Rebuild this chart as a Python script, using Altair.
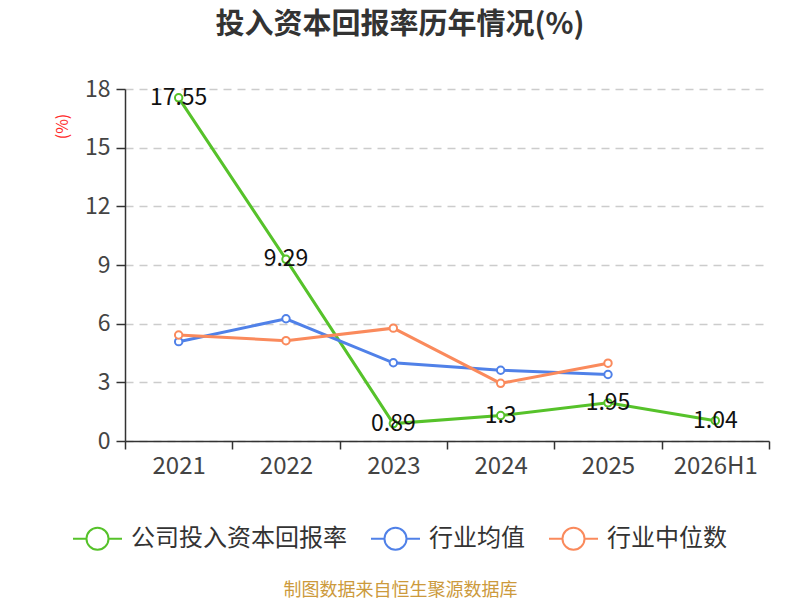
import altair as alt
import pandas as pd

years = ["2021", "2022", "2023", "2024", "2025", "2026H1"]
company = [17.55, 9.29, 0.89, 1.3, 1.95, 1.04]
ind_mean = [5.08, 6.25, 4.0, 3.62, 3.4]
ind_median = [5.42, 5.13, 5.77, 2.95, 3.98]
series_names = ["公司投入资本回报率", "行业均值", "行业中位数"]
colors = ["#56c22a", "#5081e8", "#fa8a5c"]
y_ticks = [0, 3, 6, 9, 12, 15, 18]

rows = []
for vals, name in zip([company, ind_mean, ind_median], series_names):
    for yr, v in zip(years, vals):
        rows.append({"year": yr, "value": v, "series": name})
df = pd.DataFrame(rows)
label_df = df[df["series"] == series_names[0]]

FONT = "Noto Sans CJK SC"
legend_path = ("M-1,0L-0.45,0M0.45,0L1,0M0.45,0A0.45,0.45,0,1,1,-0.45,0"
               "A0.45,0.45,0,1,1,0.45,0")

x_enc = alt.X(
    "year:N", sort=years,
    scale=alt.Scale(type="band", domain=years, paddingInner=0, paddingOuter=0),
    axis=alt.Axis(
        title="制图数据来自恒生聚源数据库", titleColor="#cc9a3c", titleFontSize=18,
        titleFontWeight="normal", titleFont=FONT, titleX=275, titleY=149,
        titleBaseline="middle", titleAlign="center",
        labelAngle=0, labelFontSize=24, labelColor="#444444", labelFont=FONT,
        labelPadding=5, tickBand="extent", tickSize=8, tickColor="#333333",
        tickWidth=1.5, domainColor="#333333", domainWidth=1.5, grid=False,
    ),
)
y_enc = alt.Y(
    "value:Q",
    scale=alt.Scale(domain=[0, 18], nice=False, zero=True),
    axis=alt.Axis(
        values=y_ticks, title="(%)", titleColor="#ff2a2a", titleFontSize=16,
        titleFontWeight="normal", titleFont=FONT, titleX=-63, titleY=37,
        titleAngle=-90, titleAlign="center", titleBaseline="middle",
        labelFontSize=23, labelColor="#444444", labelFont=FONT, labelPadding=6,
        tickSize=9, tickColor="#333333", tickWidth=1.5,
        domainColor="#333333", domainWidth=1.5,
        grid=True, gridDash=[8, 6], gridColor="#cccccc", gridWidth=1.5,
    ),
)
stroke_enc = alt.Stroke(
    "series:N",
    scale=alt.Scale(domain=series_names, range=colors),
    legend=alt.Legend(
        title=None, orient="none", direction="horizontal",
        legendX=-53, legendY=424,
        symbolType=legend_path, symbolSize=2401, symbolStrokeWidth=2,
        symbolFillColor="white",
        labelFontSize=24, labelColor="#333333", labelFont=FONT, labelLimit=0,
        labelOffset=8, columnPadding=20,
    ),
)

lines = alt.Chart(df).mark_line(strokeWidth=3).encode(
    x=x_enc, y=y_enc, stroke=stroke_enc
)
points = alt.Chart(df).mark_point(
    filled=True, fill="white", size=55, strokeWidth=2, opacity=1
).encode(x=x_enc, y=y_enc, stroke=stroke_enc)
labels = alt.Chart(label_df).mark_text(
    fontSize=23, color="#111111", font=FONT, align="center", baseline="middle"
).encode(x=x_enc, y=y_enc, text=alt.Text("value:Q"))

chart = alt.layer(lines, points, labels).properties(
    width=644, height=352,
    autosize=alt.AutoSizeParams(type="none"),
    padding={"left": 117, "top": 81, "right": 23, "bottom": 159},
    title=alt.Title(
        "投入资本回报率历年情况(%)", fontSize=29, fontWeight="bold",
        color="#333333", font=FONT, anchor="middle", frame="group",
        dx=-47, dy=2, offset=40,
    ),
).configure_view(stroke=None)

chart.save("out.html", embed_options={"renderer": "svg", "actions": False})
